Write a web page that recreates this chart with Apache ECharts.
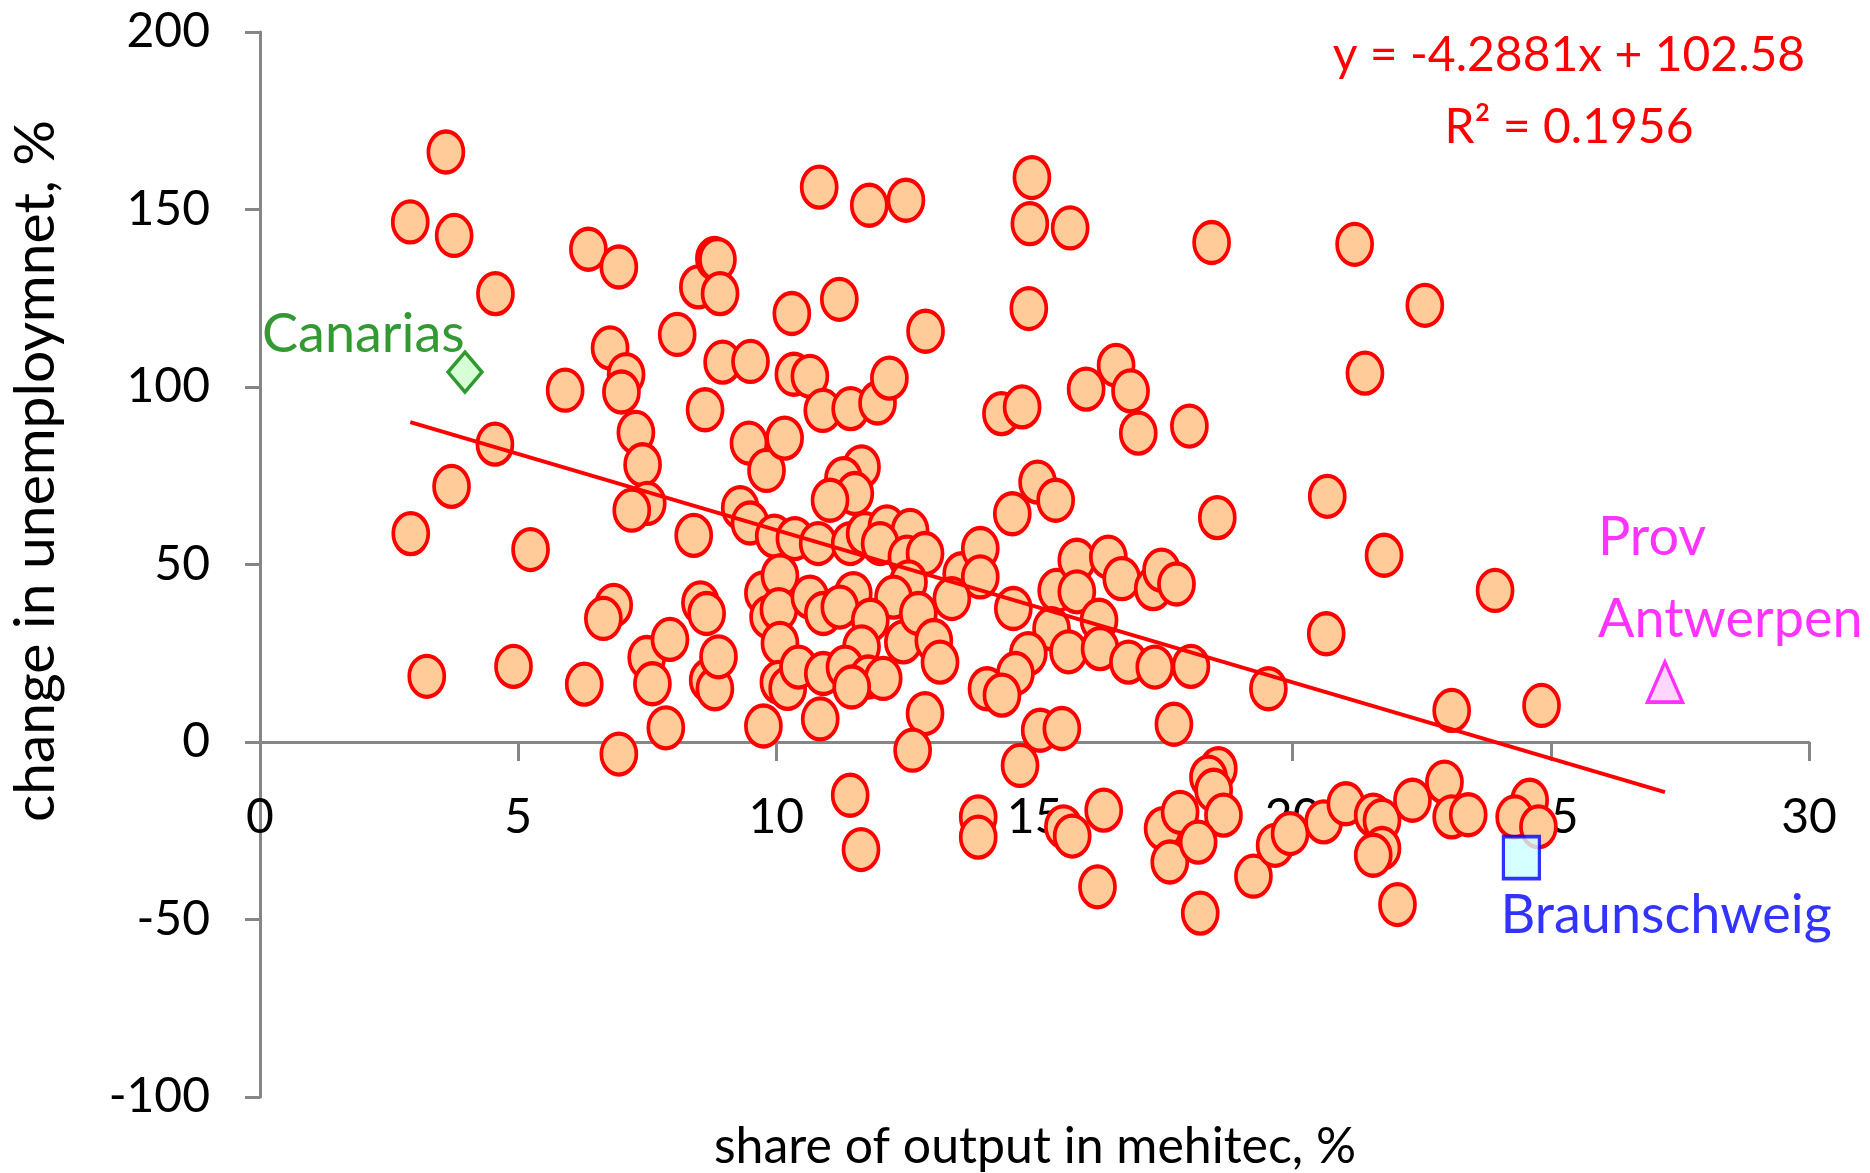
<!DOCTYPE html>
<html>
<head>
<meta charset="utf-8">
<script src="https://cdn.jsdelivr.net/npm/echarts@6.0.0/dist/echarts.min.js"></script>
<style>
html,body{margin:0;padding:0;background:#ffffff;}
#chart{width:1870px;height:1173px;}
</style>
</head>
<body>
<div id="chart"></div>
<script>
// ---- data ----
const regionX = [
3.60,2.91,3.76,4.56,2.92,3.71,4.55,3.23,4.91,5.24,5.91,6.36,6.95,6.78,7.09,7.00,7.28,7.41,7.50,7.20,
6.85,6.65,6.28,6.95,7.49,7.60,7.86,7.94,8.08,8.49,8.80,8.86,8.91,8.96,8.62,9.50,8.40,8.53,8.65,8.68,
8.81,8.88,9.47,9.81,9.30,9.49,9.75,9.85,9.75,9.96,10.07,10.05,10.07,10.05,10.22,10.43,10.30,10.34,10.65,10.16,
10.83,10.90,11.22,11.44,11.65,11.30,11.52,11.04,11.80,12.51,11.96,12.19,12.89,10.36,10.81,11.43,11.72,12.14,12.59,12.01,
12.53,12.88,12.56,12.27,11.49,10.65,10.91,11.23,11.82,12.46,12.75,13.05,13.17,11.65,10.91,11.33,11.78,12.07,11.46,10.85,
12.88,12.64,13.59,13.95,13.95,13.40,14.59,15.43,15.82,16.43,15.82,16.25,16.69,17.30,17.46,17.75,15.33,14.88,15.66,16.27,
16.82,17.33,14.63,14.08,14.37,15.11,15.53,17.70,15.06,15.41,14.57,14.36,14.76,14.89,14.91,14.95,15.69,16.00,16.58,16.86,
17.01,18.00,18.43,21.20,22.56,21.40,18.54,20.67,21.77,23.92,20.65,18.03,19.53,23.08,24.82,
14.72,11.43,11.64,13.91,13.91,15.56,15.73,16.34,16.22,17.49,17.62,17.82,18.56,18.37,18.47,18.66,18.17,18.21,19.24,19.66,
19.95,20.60,21.03,21.56,21.73,21.73,21.56,22.03,22.32,22.94,23.08,23.40,24.59,24.30,24.76
];
const regionY = [
166.2,146.5,142.7,126.3,58.7,72.0,83.9,18.5,21.3,54.2,99.1,138.8,133.8,111.0,103.5,98.6,87.2,78.1,67.2,65.3,
38.5,34.8,16.3,-3.4,23.8,16.4,4.0,28.9,114.8,128.2,136.2,135.9,126.3,107.0,93.6,107.2,58.2,39.2,36.2,17.4,
15.0,24.0,84.2,76.5,66.0,61.7,42.0,35.2,4.5,58.0,46.8,37.3,27.8,16.8,15.1,21.1,120.7,103.6,103.0,85.6,
156.3,93.4,124.7,93.9,77.5,74.2,70.0,68.1,151.2,152.6,95.5,102.5,115.7,57.3,55.9,55.9,58.7,60.6,59.6,55.9,
52.1,53.1,45.1,40.8,41.8,40.8,36.2,38.0,34.3,28.2,36.2,28.6,22.5,26.8,19.3,21.1,18.3,17.9,15.5,6.5,
8.0,-2.3,47.4,54.5,46.5,40.4,37.6,42.7,51.2,52.1,42.3,34.3,46.0,43.2,48.4,44.5,31.9,24.9,25.4,26.3,
22.5,21.1,19.3,15.0,13.2,3.3,3.8,5.0,73.2,68.1,64.3,92.5,94.4,122.1,146.0,159.0,144.8,99.4,106.1,98.9,
87.0,89.0,140.7,140.2,123.0,103.9,63.2,69.2,52.6,42.7,30.5,21.3,15.0,8.9,10.3,
-6.6,-15.0,-30.3,-21.1,-26.8,-23.9,-26.5,-19.2,-40.8,-24.4,-33.8,-19.8,-7.5,-9.9,-13.6,-20.6,-28.2,-48.2,-37.8,-29.1,
-25.8,-22.5,-17.4,-20.6,-22.1,-30.0,-31.9,-45.8,-16.4,-11.3,-21.1,-20.5,-16.4,-21.1,-23.9
];

const specialNames = ['Canarias', 'Braunschweig', 'Prov\nAntwerpen'];
const specialX = [3.97, 24.43, 27.21];
const specialY = [104.2, -32.6, 16.9];

const trendSlope = -4.2881;
const trendIntercept = 102.58;
const trendText = 'y = -4.2881x + 102.58';
const r2Text = 'R\u00B2 = 0.1956';

const xTitle = 'share of output in mehitec, %';
const yTitle = 'change in unemploymnet, %';

const xMin = 0, xMax = 30, xStep = 5;
const yMin = -100, yMax = 200, yStep = 50;

// ---- build ----
const FONT = 'Lato, "Open Sans", sans-serif';
const ellipsePath = 'path://M0,-50 C27.6,-50 50,-27.6 50,0 C50,27.6 27.6,50 0,50 C-27.6,50 -50,27.6 -50,0 C-50,-27.6 -27.6,-50 0,-50 Z';

const mainData = regionX.map((x, i) => [x, regionY[i]]);
const allX = regionX.concat(specialX);
const tx0 = Math.min.apply(null, allX);
const tx1 = Math.max.apply(null, allX);
const trendData = [[tx0, trendSlope * tx0 + trendIntercept], [tx1, trendSlope * tx1 + trendIntercept]];

const axisGray = '#868686';
const gridTop = 32, gridBottom = 76, chartH = 1173;
// shift the x axis from the grid bottom up to the y = 0 level
const plotH = chartH - gridTop - gridBottom;
const zeroShift = -plotH * (0 - yMin) / (yMax - yMin);

const chart = echarts.init(document.getElementById('chart'), null, {renderer: 'canvas'});
chart.setOption({
  animation: false,
  backgroundColor: '#ffffff',
  grid: {left: 260, right: 61, top: gridTop, bottom: gridBottom, containLabel: false, outerBoundsMode: 'none'},
  xAxis: {
    type: 'value', min: xMin, max: xMax, interval: xStep, position: 'bottom', offset: zeroShift,
    axisLine: {show: true, onZero: false, lineStyle: {color: axisGray, width: 3}},
    axisTick: {show: true, length: 19, lineStyle: {color: axisGray, width: 3}},
    axisLabel: {fontFamily: FONT, fontSize: 48, color: '#000000', margin: 52},
    splitLine: {show: false}
  },
  yAxis: {
    type: 'value', min: yMin, max: yMax, interval: yStep,
    axisLine: {show: true, onZero: false, lineStyle: {color: axisGray, width: 3}},
    axisTick: {show: true, length: 15, lineStyle: {color: axisGray, width: 3}},
    axisLabel: {fontFamily: FONT, fontSize: 48, color: '#000000', margin: 50},
    splitLine: {show: false}
  },
  series: [
    {
      type: 'scatter', name: 'regions', data: mainData,
      symbol: ellipsePath, symbolSize: [35, 41],
      itemStyle: {color: '#FFCC99', borderColor: '#FF0000', borderWidth: 4, opacity: 1},
      z: 2
    },
    {
      type: 'scatter', name: specialNames[0], data: [[specialX[0], specialY[0]]],
      symbol: 'diamond', symbolSize: [34, 40],
      itemStyle: {color: '#CCFFCC', borderColor: '#008000', borderWidth: 3.5},
      label: {show: true, formatter: specialNames[0], position: 'inside', align: 'left', verticalAlign: 'middle',
        offset: [-203, -38], fontFamily: FONT, fontSize: 54, color: '#008000'},
      z: 4
    },
    {
      type: 'scatter', name: 'Braunschweig', data: [[specialX[1], specialY[1]]],
      symbol: 'rect', symbolSize: [36, 42],
      itemStyle: {color: '#CCFFFF', borderColor: '#0000FF', borderWidth: 3.5},
      label: {show: true, formatter: specialNames[1], position: 'inside', align: 'left', verticalAlign: 'middle',
        offset: [-21, 58], fontFamily: FONT, fontSize: 54, color: '#0000FF'},
      z: 4
    },
    {
      type: 'scatter', name: 'Prov Antwerpen', data: [[specialX[2], specialY[2]]],
      symbol: 'triangle', symbolSize: [35, 40],
      itemStyle: {color: '#FFCCFF', borderColor: '#FF00FF', borderWidth: 3.5},
      label: {show: true, formatter: specialNames[2], position: 'inside', align: 'left', verticalAlign: 'middle',
        offset: [-67, -103], lineHeight: 82, fontFamily: FONT, fontSize: 54, color: '#FF00FF'},
      z: 4
    },
    {
      type: 'line', name: 'trend', data: trendData, symbol: 'none',
      lineStyle: {color: '#FF0000', width: 4}, z: 5, silent: true
    }
  ],
  graphic: [
    {type: 'text', x: 1569, y: 56, z: 10,
      style: {text: trendText, fill: '#FF0000', font: '48px ' + FONT, textAlign: 'center', textVerticalAlign: 'middle'}},
    {type: 'text', x: 1569, y: 128, z: 10,
      style: {text: r2Text, fill: '#FF0000', font: '48px ' + FONT, textAlign: 'center', textVerticalAlign: 'middle'}},
    {type: 'text', x: 1035, y: 1147, z: 10,
      style: {text: xTitle, fill: '#000000', font: '50px ' + FONT, textAlign: 'center', textVerticalAlign: 'middle'}},
    {type: 'text', x: 36, y: 471, rotation: Math.PI / 2, z: 10,
      style: {text: yTitle, fill: '#000000', font: '57px ' + FONT, textAlign: 'center', textVerticalAlign: 'middle'}}
  ]
});
</script>
</body>
</html>
